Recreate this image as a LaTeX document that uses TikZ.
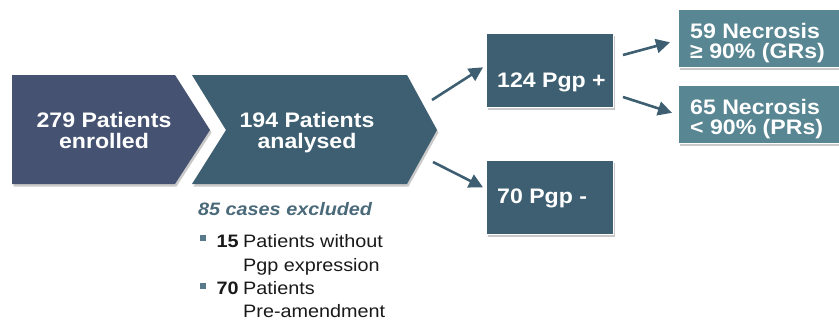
\documentclass[tikz,border=0pt]{standalone}
\usepackage{fontspec}
\setmainfont{Liberation Sans}[FakeStretch=1.1]
\usetikzlibrary{arrows.meta,shadows}
\definecolor{chevA}{RGB}{69,82,113}
\definecolor{chevB}{RGB}{61,95,113}
\definecolor{necro}{RGB}{88,134,146}
\definecolor{excl}{RGB}{74,106,122}
\definecolor{bul}{RGB}{88,122,138}
\definecolor{bodytxt}{RGB}{25,25,25}
\tikzset{
  shad/.style={drop shadow={shadow xshift=1.5pt, shadow yshift=-2.5pt, opacity=0.3, fill=black!70}},
  bigtxt/.style={text=white, inner sep=0pt, font=\fontsize{21}{21}\selectfont\bfseries, align=center},
  ntxt/.style={text=white, inner sep=0pt, font=\fontsize{21}{20}\selectfont\bfseries, align=left},
  pbox/.style={fill=chevB, draw=white, line width=0.6pt, inner sep=0pt, shad},
  nbox/.style={fill=necro, draw=white, line width=0.6pt, inner sep=0pt, shad},
  arr/.style={draw=chevB, line width=2.6pt, -{Triangle[length=14pt,width=14pt]}},
  bsq/.style={fill=bul, minimum size=6pt, inner sep=0pt},
  bltxt/.style={text=bodytxt, inner sep=0pt, font=\fontsize{18}{23.7}\selectfont, align=left},
}
\begin{document}
\begin{tikzpicture}[x=1pt,y=-1pt]
\useasboundingbox (0,0) rectangle (839,327);
% chevrons
\fill[chevA, shad] (12,75) -- (175,75) -- (210,130) -- (175,184) -- (12,184) -- cycle;
\fill[chevB, shad] (192,75) -- (407,75) -- (437,130) -- (407,184) -- (192,184) -- (226,130) -- cycle;
\node[bigtxt, anchor=north] (t1) at (104,112.5) {279 Patients\\enrolled};
\node[bigtxt, anchor=north] (t2) at (307,112.5) {194 Patients\\analysed};
% Pgp boxes
\node[pbox, minimum width=127pt, minimum height=74pt, anchor=north west] (p1) at (486,33) {};
\node[pbox, minimum width=127pt, minimum height=74pt, anchor=north west] (p2) at (486,160) {};
\node[bigtxt, anchor=base west] (p1t) at (497,87) {124 Pgp +};
\node[bigtxt, anchor=base west] (p2t) at (497,203) {70 Pgp -};
% necrosis boxes
\node[nbox, minimum width=175pt, minimum height=58pt, anchor=north west] (n1) at (678,9) {};
\node[nbox, minimum width=175pt, minimum height=58pt, anchor=north west] (n2) at (678,85) {};
\node[ntxt, anchor=north west] (n1t) at (690,23) {59 Necrosis\\≥ 90\% (GRs)};
\node[ntxt, anchor=north west] (n2t) at (690,99) {65 Necrosis\\< 90\% (PRs)};
% arrows
\coordinate (a1) at (432,100);
\coordinate (a2) at (433,162);
\coordinate (a3) at (623,55);
\coordinate (a4) at (623,97);
\draw[arr] (a1) -- ([shift={(-3,-3)}]p1.west);
\draw[arr] (a2) -- ([shift={(-3,-10)}]p2.west);
\draw[arr] (a3) -- ([shift={(-8,4)}]n1.west);
\draw[arr] (a4) -- ([shift={(-6,-1.5)}]n2.west);
% excluded
\node[anchor=base west, inner sep=0pt, text=excl, font=\fontsize{18}{18}\selectfont\bfseries\itshape] (ex) at (198,215) {85 cases excluded};
\node[bsq] (b1) at (203,238) {};
\node[bsq] (b2) at (203,286) {};
\node[bltxt, anchor=base west, font=\fontsize{18}{23.7}\selectfont\bfseries] (n15) at (216.5,247.7) {15};
\node[bltxt, anchor=north west] (l1) at (243,234.5) {Patients without\\Pgp expression};
\node[bltxt, anchor=base west, font=\fontsize{18}{23.7}\selectfont\bfseries] (n70) at (216.5,294) {70};
\node[bltxt, anchor=north west] (l2) at (243,281) {Patients\\Pre-amendment};
\end{tikzpicture}
\end{document}
